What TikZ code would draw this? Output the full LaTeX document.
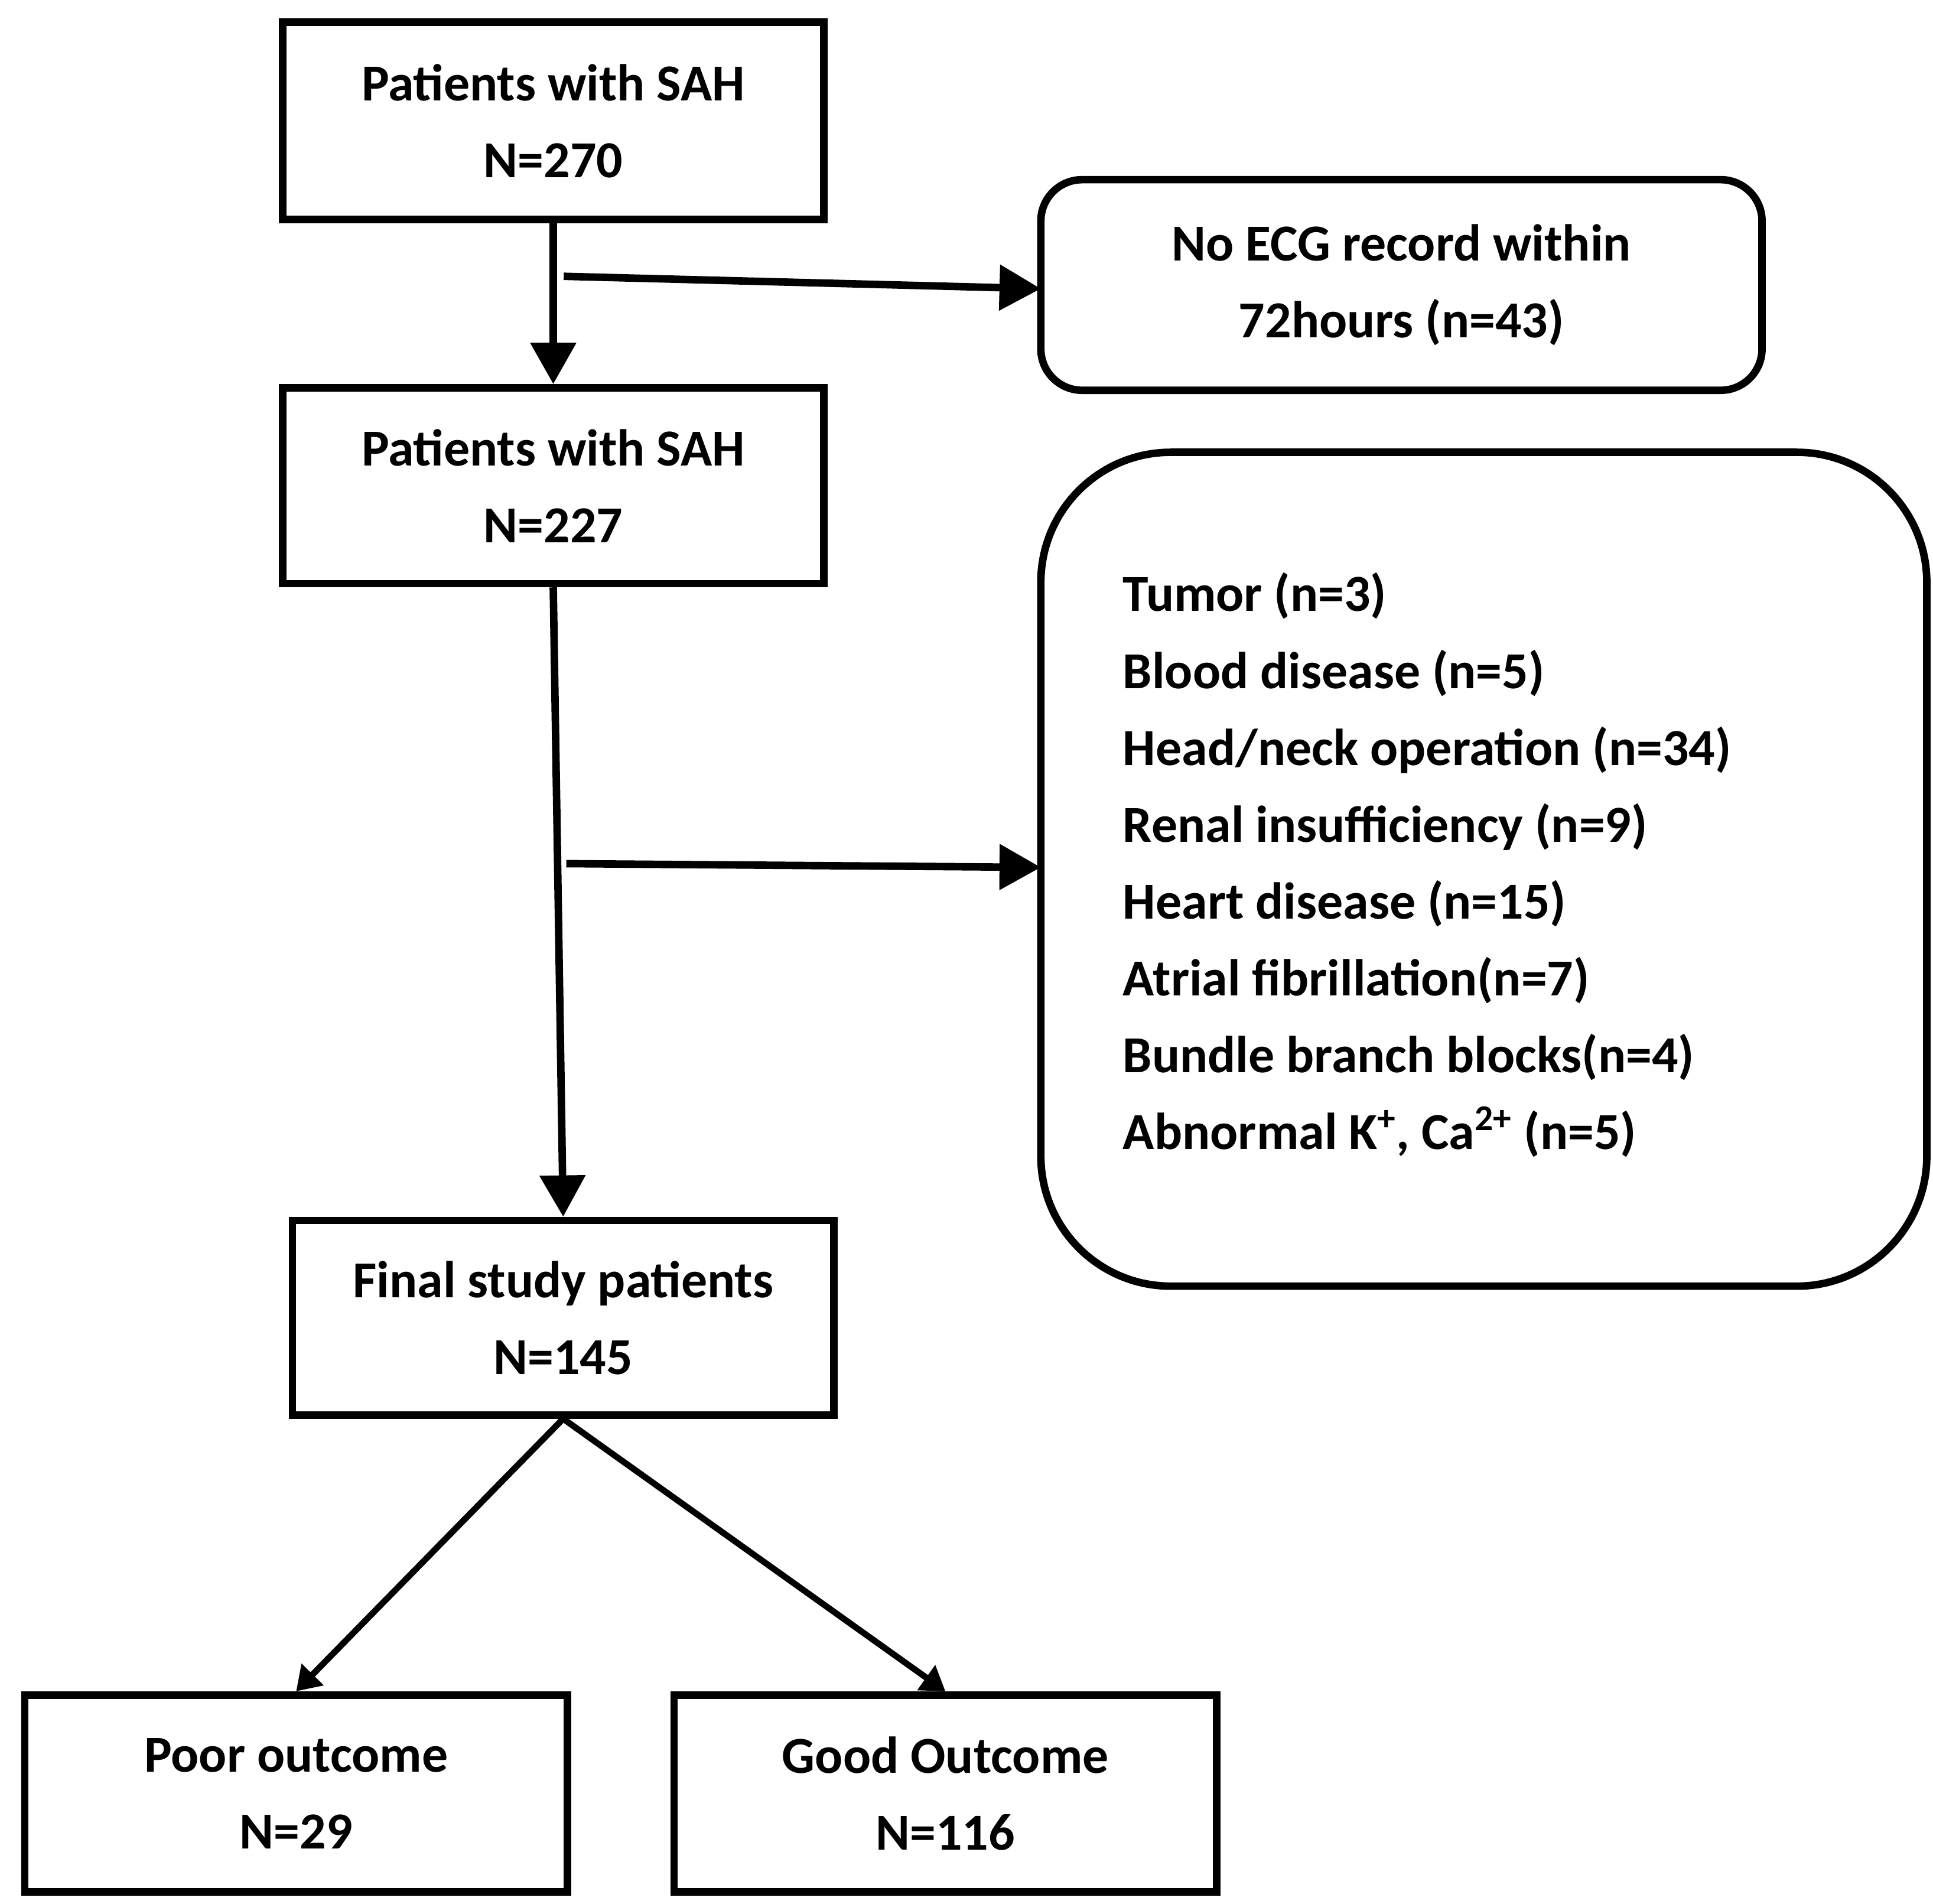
\documentclass[tikz,border=0pt]{standalone}
\usepackage{fontspec}
\setmainfont{Carlito}
\usetikzlibrary{arrows.meta}

\tikzset{
  box/.style={draw, line width=3.6pt, align=center, inner sep=0pt},
  flow/.style={line width=3.6pt, -{Triangle[width=0.75cm,length=0.7cm]}},
  link/.style={line width=3pt, -{Triangle[width=0.5cm,length=0.4cm]}}
}

\begin{document}
\begin{tikzpicture}[x=0.02097cm, y=-0.02097cm, font=\fontsize{25}{37}\selectfont\bfseries]
\useasboundingbox (0,0) rectangle (1560,1536.5);

\node[box, minimum width=437*0.02097cm, minimum height=159*0.02097cm] (sah) at (446.5,97.5) {Patients with SAH\\N=270};
\node[box, rounded corners=0.7cm, minimum width=582*0.02097cm, minimum height=170*0.02097cm] (noecg) at (1131,230) {No ECG record within\\72hours (n=43)};
\node[box, minimum width=437*0.02097cm, minimum height=158*0.02097cm] (sahb) at (446.5,392) {Patients with SAH\\N=227};
\node[box, rounded corners=2.2cm, minimum width=715*0.02097cm, minimum height=673*0.02097cm] (excl) at (1197.5,701.5) {};
\node[anchor=north west, align=left, inner sep=0pt] (list) at (906,462) {Tumor (n=3)\\Blood disease (n=5)\\Head/neck operation (n=34)\\Renal insufficiency (n=9)\\Heart disease (n=15)\\Atrial fibrillation(n=7)\\Bundle branch blocks(n=4)\\Abnormal K\textsuperscript{+}, Ca\textsuperscript{2+} (n=5)};
\node[box, minimum width=437*0.02097cm, minimum height=157*0.02097cm] (final) at (454.5,1063.5) {Final study patients\\N=145};
\node[box, minimum width=438*0.02097cm, minimum height=159*0.02097cm] (poor) at (239,1447.5) {Poor outcome\\N=29};
\node[box, minimum width=438*0.02097cm, minimum height=159*0.02097cm] (good) at (763,1447.5) {Good Outcome\\N=116};

% branch points on the main line
\coordinate (b1) at (455,223);
\coordinate (b2) at (457,697);
\coordinate (t1) at (840,233);
\coordinate (t2) at (840,700);

\draw[flow] (sah.south) -- (sahb.north);
\draw[flow] (b1) -- (t1);
\draw[flow] (sahb.south) -- (final.north);
\draw[flow] (b2) -- (t2);
\draw[link] (final.south) -- (poor.north);
\draw[link] (final.south) -- (good.north);
\end{tikzpicture}
\end{document}
